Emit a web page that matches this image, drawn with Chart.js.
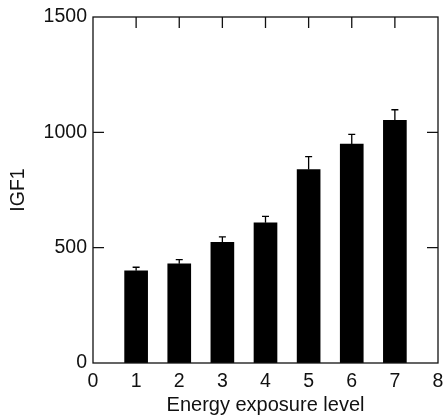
<!DOCTYPE html>
<html>
<head>
<meta charset="utf-8">
<script src="https://cdn.jsdelivr.net/npm/chart.js@4"></script>
<style>
  body { margin: 0; background: #fff; }
  canvas { display: block; }
</style>
</head>
<body>
<canvas id="igf" width="446" height="417"></canvas>
<script>
const levels = [1, 2, 3, 4, 5, 6, 7];
const igf1 = [400, 430, 523, 608, 839, 949, 1052];
const igf1Err = [15, 18, 24, 28, 56, 42, 46];
const xTicks = [0, 1, 2, 3, 4, 5, 6, 7, 8];
const yTicks = [0, 500, 1000, 1500];

const FONT = 'Liberation Sans, Arial, sans-serif';

// box around the plot with short inward ticks, like the old plotting packages
const frameTicks = {
    id: 'frameTicks',
    afterDraw(chart) {
        const ctx = chart.ctx;
        const area = chart.chartArea;
        const x = chart.scales.x;
        const y = chart.scales.y;
        const len = 11;
        ctx.save();
        ctx.strokeStyle = '#111';
        ctx.lineWidth = 1.3;
        ctx.strokeRect(area.left, area.top, area.right - area.left, area.bottom - area.top);
        ctx.beginPath();
        for (const v of xTicks.slice(1, -1)) {
            const px = x.getPixelForValue(v);
            ctx.moveTo(px, area.top);
            ctx.lineTo(px, area.top + len);
        }
        for (const v of yTicks.slice(1, -1)) {
            const py = y.getPixelForValue(v);
            ctx.moveTo(area.left, py);
            ctx.lineTo(area.left + len, py);
            ctx.moveTo(area.right, py);
            ctx.lineTo(area.right - len, py);
        }
        ctx.stroke();
        ctx.restore();
    }
};

// upper error bars only
const errorBars = {
    id: 'errorBars',
    afterDatasetsDraw(chart) {
        const ctx = chart.ctx;
        const x = chart.scales.x;
        const y = chart.scales.y;
        ctx.save();
        ctx.strokeStyle = '#000';
        ctx.lineWidth = 1.3;
        ctx.beginPath();
        levels.forEach((lvl, i) => {
            const px = x.getPixelForValue(lvl);
            const top = y.getPixelForValue(igf1[i] + igf1Err[i]);
            ctx.moveTo(px, y.getPixelForValue(igf1[i]));
            ctx.lineTo(px, top);
            ctx.moveTo(px - 3.5, top);
            ctx.lineTo(px + 3.5, top);
        });
        ctx.stroke();
        ctx.restore();
    }
};

new Chart(document.getElementById('igf'), {
    type: 'bar',
    data: {
        datasets: [{
            data: levels.map((lvl, i) => ({ x: lvl, y: igf1[i] })),
            backgroundColor: '#000',
            borderWidth: 0,
            barThickness: 23
        }]
    },
    options: {
        responsive: false,
        animation: false,
        layout: { padding: { top: 17, right: 8, left: 0, bottom: 0 } },
        plugins: { legend: { display: false }, tooltip: { enabled: false } },
        scales: {
            x: {
                type: 'linear',
                min: 0,
                max: 8,
                offset: false,
                afterBuildTicks: s => { s.ticks = xTicks.map(v => ({ value: v })); },
                afterFit: s => { s.height = 54; s.paddingRight = 0; s.paddingLeft = 0; },
                grid: { display: false, drawTicks: false },
                border: { display: false },
                ticks: { color: '#111', font: { family: FONT, size: 19.5 }, padding: 7, maxRotation: 0,
                         callback: v => String(v) },
                title: { display: true, text: 'Energy exposure level', color: '#111',
                         font: { family: FONT, size: 20 }, padding: { top: 0, bottom: 0 } }
            },
            y: {
                min: 0,
                max: 1500,
                afterBuildTicks: s => { s.ticks = yTicks.map(v => ({ value: v })); },
                afterFit: s => { s.width = 93; s.paddingTop = 0; s.paddingBottom = 0; },
                grid: { display: false, drawTicks: false },
                border: { display: false },
                ticks: { color: '#111', font: { family: FONT, size: 19.5 }, padding: 6,
                         callback: v => String(v) },
                title: { display: true, text: 'IGF1', color: '#111',
                         font: { family: FONT, size: 19.5 }, padding: { top: 7, bottom: 0 } }
            }
        }
    },
    plugins: [errorBars, frameTicks]
});
</script>
</body>
</html>
